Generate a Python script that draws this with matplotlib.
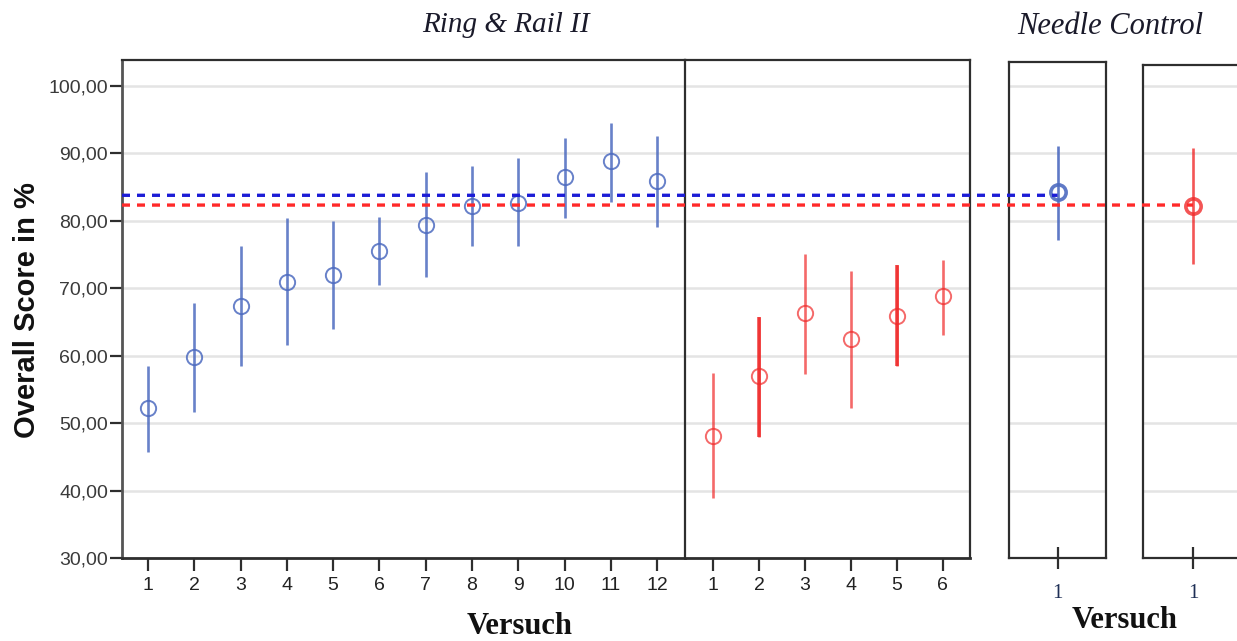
import numpy as np
import matplotlib
matplotlib.use('Agg')
import matplotlib.pyplot as plt
from matplotlib.patches import ConnectionPatch
from matplotlib.ticker import FuncFormatter

plt.rcParams['font.family'] = ['Liberation Sans', 'DejaVu Sans']

# --------------------------------------------------------------
# Data
# --------------------------------------------------------------

# Ring & Rail II, blue group (12 trials)
rr_blue_trial = np.arange(1, 13)
rr_blue_mean = [52.2, 59.8, 67.4, 70.9, 72.0, 75.5, 79.3, 82.1, 82.6, 86.4, 88.9, 85.9]
rr_blue_low = [45.7, 51.6, 58.4, 61.5, 63.9, 70.4, 71.6, 76.3, 76.2, 80.4, 82.7, 79.0]
rr_blue_high = [58.5, 67.8, 76.3, 80.4, 79.9, 80.5, 87.2, 88.1, 89.3, 92.2, 94.5, 92.6]

# Ring & Rail II, red group (6 trials)
rr_red_trial = np.arange(1, 7)
rr_red_mean = [48.1, 56.9, 66.3, 62.5, 65.9, 68.8]
rr_red_low = [38.9, 48.0, 57.2, 52.2, 58.5, 63.1]
rr_red_high = [57.4, 65.7, 75.1, 72.6, 73.4, 74.1]

# Needle Control, one trial per group
nc_trial = [1]
nc_blue_mean, nc_blue_low, nc_blue_high = [84.25], [77.1], [91.1]
nc_red_mean, nc_red_low, nc_red_high = [82.2], [73.6], [90.8]

# dashed reference levels
ref_blue = 83.75
ref_red = 82.3

y_ticks = [30, 40, 50, 60, 70, 80, 90, 100]

# --------------------------------------------------------------
# Styles
# --------------------------------------------------------------

BLUE = '#4d6bc0'
RED = '#f02a2a'
SPINE = '#2e2e2e'
GRID = '#e4e4e4'
SERIF = ['Liberation Serif', 'DejaVu Serif']

W, H = 1237, 641
fig = plt.figure(figsize=(W / 100, H / 100), dpi=100)


def px_axes(x0, x1, y_top, y_bot=558):
    return fig.add_axes([x0 / W, 1 - y_bot / H, (x1 - x0) / W, (y_bot - y_top) / H])


def style_box(ax, ytop):
    ax.set_ylim(30, ytop)
    ax.set_yticks(y_ticks)
    ax.yaxis.grid(True, color=GRID, lw=1.8)
    ax.set_axisbelow(True)
    for s in ax.spines.values():
        s.set_color(SPINE)
        s.set_linewidth(1.6)


def draw_series(ax, x, mean, low, high, color, lw=1.9, ms=11, mew=1.4, alpha=0.85):
    ax.vlines(x, low, high, color=color, lw=lw, alpha=alpha, zorder=3)
    ax.plot(x, mean, 'o', mfc='none', mec=color, ms=ms, mew=mew, alpha=alpha, zorder=4)


# main panel split into the blue and red parts
ax_b = px_axes(122, 685, 60)
ax_r = px_axes(685, 970, 60)
ax_nb = px_axes(1009, 1106, 62)
ax_nr = px_axes(1143, 1243, 65)

for ax, top in [(ax_b, 103.8), (ax_r, 103.8), (ax_nb, 103.5), (ax_nr, 103.05)]:
    style_box(ax, top)

ax_b.set_xlim(0.44, 12.6)
ax_r.set_xlim(0.39, 6.59)
ax_nb.set_xlim(0, 2)
ax_nr.set_xlim(0, 2)

ax_b.spines['right'].set_visible(False)
ax_b.spines['left'].set_color('#555555')
ax_b.spines['left'].set_linewidth(2.0)
ax_b.spines['bottom'].set_linewidth(2.0)
ax_r.spines['bottom'].set_linewidth(2.0)

# y axis only on the far left
ax_b.yaxis.set_major_formatter(FuncFormatter(lambda v, p: f'{v:.2f}'.replace('.', ',')))
ax_b.tick_params(axis='y', direction='out', length=9, width=1.6, color=SPINE,
                 labelsize=14, labelcolor='#3a3a3a', pad=1)
for ax in (ax_r, ax_nb, ax_nr):
    ax.tick_params(axis='y', left=False, labelleft=False)

for ax, trials in [(ax_b, rr_blue_trial), (ax_r, rr_red_trial)]:
    ax.set_xticks(trials)
    ax.tick_params(axis='x', direction='out', length=9, width=1.6, color=SPINE,
                   labelsize=14, labelcolor='#222222', pad=5)

for ax in (ax_nb, ax_nr):
    ax.set_xticks(nc_trial)
    ax.tick_params(axis='x', direction='inout', length=16, width=1.6, color=SPINE,
                   labelsize=15, labelcolor='#1e2f55', pad=11)
    for lab in ax.get_xticklabels():
        lab.set_family(SERIF)

draw_series(ax_b, rr_blue_trial, rr_blue_mean, rr_blue_low, rr_blue_high, BLUE)
draw_series(ax_r, rr_red_trial, rr_red_mean, rr_red_low, rr_red_high, RED, alpha=0.7)
# trials 2 and 5 are overplotted in the source, so they read heavier
heavy = [1, 4]
ax_r.vlines(rr_red_trial[heavy], np.array(rr_red_low)[heavy], np.array(rr_red_high)[heavy],
            color=RED, lw=2.6, alpha=0.85, zorder=3)
draw_series(ax_nb, nc_trial, nc_blue_mean, nc_blue_low, nc_blue_high, BLUE, ms=11, mew=2.6, alpha=0.9)
draw_series(ax_nr, nc_trial, nc_red_mean, nc_red_low, nc_red_high, RED, ms=11, mew=2.6, alpha=0.8)

# dashed reference lines running across all panels
for ref, color, target in [(ref_blue, '#1c1cd6', ax_nb), (ref_red, '#ff2a2a', ax_nr)]:
    con = ConnectionPatch(xyA=(ax_b.get_xlim()[0], ref), coordsA=ax_b.transData,
                          xyB=(nc_trial[0], ref), coordsB=target.transData,
                          color=color, lw=2.4, linestyle=(0, (2.4, 2.1)),
                          capstyle='butt', zorder=5)
    fig.add_artist(con)

# titles and axis labels
fig.text(27 / W, 1 - 310 / H, 'Overall Score in %', rotation=90, fontsize=21,
         fontweight='bold', ha='center', va='center', color='#111111')
fig.text(520 / W, 1 - 627 / H, 'Versuch', family=SERIF, fontweight='bold',
         fontsize=22, ha='center', va='center', color='#111111')
fig.text(1125 / W, 1 - 620 / H, 'Versuch', family=SERIF, fontweight='bold',
         fontsize=22, ha='center', va='center', color='#111111')
fig.text(506 / W, 1 - 25 / H, 'Ring & Rail II', family=SERIF, style='italic',
         fontsize=21, ha='center', va='center', color='#1a1a2a')
fig.text(1110 / W, 1 - 27 / H, 'Needle Control', family=SERIF, style='italic',
         fontsize=22, ha='center', va='center', color='#1a1a2a')

fig.savefig('out.png', dpi=100)
